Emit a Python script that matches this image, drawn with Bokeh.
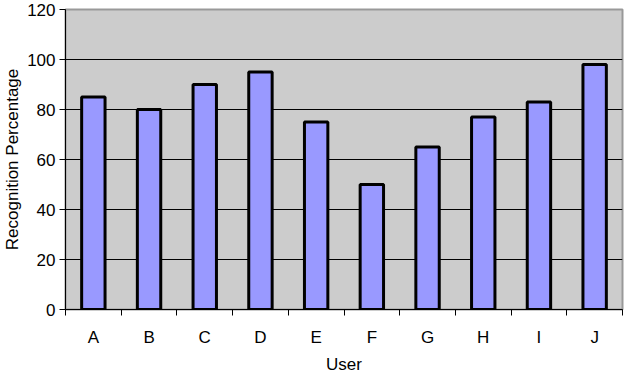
from bokeh.plotting import figure
from bokeh.models import FixedTicker, ColumnDataSource, Range1d
from bokeh.embed import file_html
from bokeh.resources import INLINE

users = ["A", "B", "C", "D", "E", "F", "G", "H", "I", "J"]
recognition = [85, 80, 90, 95, 75, 50, 65, 77, 83, 98]
y_ticks = [0, 20, 40, 60, 80, 100, 120]

FONT = "Liberation Sans"

centers = [i + 0.5 for i in range(len(users))]
bounds = list(range(len(users) + 1))

src = ColumnDataSource(dict(x=centers, top=recognition, user=users))

p = figure(width=624, height=376, output_backend="svg", toolbar_location=None,
           x_range=Range1d(0, len(users)), y_range=Range1d(0, 120),
           min_border_left=58, min_border_right=2, min_border_top=9, min_border_bottom=60)

p.background_fill_color = "#CCCCCC"
p.border_fill_color = "white"
p.outline_line_color = "#999999"
p.outline_line_width = 2

p.vbar(x="x", top="top", width=0.42, source=src, fill_color="#9999FF",
       line_color="black", line_width=3)

# x axis: labels at category centers, ticks at boundaries
p.xaxis.ticker = FixedTicker(ticks=centers, minor_ticks=bounds)
p.xaxis.major_label_overrides = {c: u for c, u in zip(centers, users)}
p.xaxis.major_tick_out = 0
p.xaxis.major_tick_in = 0
p.xaxis.minor_tick_out = 6
p.xaxis.minor_tick_in = 0
p.xaxis.minor_tick_line_color = "black"
p.xaxis.major_label_standoff = 12
p.xaxis.axis_label = "User"
p.xaxis.axis_label_standoff = 5

p.yaxis.ticker = FixedTicker(ticks=y_ticks)
p.yaxis.major_tick_out = 6
p.yaxis.major_tick_in = 0
p.yaxis.minor_tick_line_color = None
p.yaxis.major_label_standoff = 4
p.yaxis.axis_label = "Recognition Percentage"
p.yaxis.axis_label_standoff = 2

for ax in (p.xaxis, p.yaxis):
    ax.axis_line_color = "black"
    ax.axis_line_width = 1
    ax.major_tick_line_color = "black"
    ax.major_label_text_font = FONT
    ax.major_label_text_font_size = "17px"
    ax.major_label_text_color = "black"
    ax.axis_label_text_font = FONT
    ax.axis_label_text_font_size = "17px"
    ax.axis_label_text_font_style = "normal"
    ax.axis_label_text_color = "black"

p.xgrid.grid_line_color = None
p.ygrid.ticker = FixedTicker(ticks=[t for t in y_ticks if 0 < t < 120])
p.ygrid.grid_line_color = "black"
p.ygrid.grid_line_width = 1

open("out.html", "w").write(file_html(p, INLINE))
